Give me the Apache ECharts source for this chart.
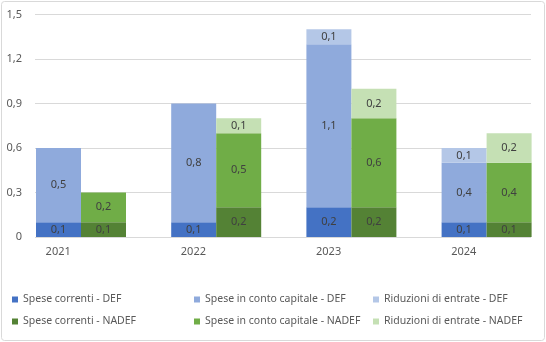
<!DOCTYPE html>
<html>
<head>
<meta charset="utf-8">
<script src="https://cdn.jsdelivr.net/npm/echarts@6/dist/echarts.min.js"></script>
<style>html,body{margin:0;padding:0;background:#fff;}#c{width:546px;height:342px;}</style>
</head>
<body>
<div id="c"></div>
<script>
const categories = ['2021', '2022', '2023', '2024'];
const correntiDEF = [0.1, 0.1, 0.2, 0.1];
const capitaleDEF = [0.5, 0.8, 1.1, 0.4];
const riduzioniDEF = [0, 0, 0.1, 0.1];
const correntiNADEF = [0.1, 0.2, 0.2, 0.1];
const capitaleNADEF = [0.2, 0.5, 0.6, 0.4];
const riduzioniNADEF = [0, 0.1, 0.2, 0.2];
const yMin = 0, yMax = 1.5, yStep = 0.3;

const FONT = 'Noto Sans';
const fmt = v => String(Math.round(v * 10) / 10).replace('.', ',');
const lab = {
  show: true, position: 'inside', color: '#404040', fontSize: 11, fontFamily: FONT,
  formatter: p => (p.value ? fmt(p.value) : '')
};
function bar(name, data, stack, color) {
  return { name, type: 'bar', stack, data, itemStyle: { color }, label: lab,
    xAxisIndex: 0, yAxisIndex: 0, barGap: '0%', barWidth: 45 };
}
const series = [
  { name: '_', type: 'bar', stack: 'z', data: categories.map(() => null), xAxisIndex: 0, yAxisIndex: 0, barGap: '0%', barWidth: 26.8 },
  bar('Spese correnti - DEF', correntiDEF, 'def', '#4472C4'),
  bar('Spese in conto capitale - DEF', capitaleDEF, 'def', '#8FAADC'),
  bar('Riduzioni di entrate - DEF', riduzioniDEF, 'def', '#B4C7E7'),
  bar('Spese correnti - NADEF', correntiNADEF, 'nadef', '#548235'),
  bar('Spese in conto capitale - NADEF', capitaleNADEF, 'nadef', '#70AD47'),
  bar('Riduzioni di entrate - NADEF', riduzioniNADEF, 'nadef', '#C5E0B4'),
  { name: '__', type: 'line', data: [], xAxisIndex: 1, yAxisIndex: 1 }
];
const legendPos = [
  ['Spese correnti - DEF', 12, 294],
  ['Spese in conto capitale - DEF', 194, 294],
  ['Riduzioni di entrate - DEF', 373, 294],
  ['Spese correnti - NADEF', 12, 316],
  ['Spese in conto capitale - NADEF', 194, 316],
  ['Riduzioni di entrate - NADEF', 373, 316]
];
const legends = legendPos.map(([n, l, t]) => ({
  data: [n], left: l, top: t, padding: 0, itemGap: 0, itemWidth: 6, itemHeight: 6, icon: 'rect',
  selectedMode: false, textStyle: { color: '#595959', fontSize: 10.5, fontFamily: FONT }
}));

const chart = echarts.init(document.getElementById('c'), null, { renderer: 'canvas' });
chart.setOption({
  animation: false,
  backgroundColor: '#fff',
  graphic: [{ type: 'rect', shape: { x: 1.5, y: 1.5, width: 543, height: 339, r: 3 },
    style: { fill: 'none', stroke: '#D9D9D9', lineWidth: 1 }, z: -1 }],
  legend: legends,
  grid: [
    { left: 0, right: 5.2, top: 14.5, bottom: 105 },
    { left: 35, right: 15, top: 14.5, bottom: 105 }
  ],
  xAxis: [
    { type: 'category', gridIndex: 0, data: categories, axisLine: { show: false }, axisTick: { show: false },
      axisLabel: { margin: 9, color: '#595959', fontSize: 11, fontFamily: FONT, padding: [0, 18.8, 0, 0] } },
    { type: 'category', gridIndex: 1, data: categories, show: false }
  ],
  yAxis: [
    { type: 'value', gridIndex: 0, min: yMin, max: yMax, interval: yStep, show: false, splitLine: { show: false } },
    { type: 'value', gridIndex: 1, min: yMin, max: yMax, interval: yStep,
      axisLine: { show: false }, axisTick: { show: false },
      splitLine: { lineStyle: { color: '#D9D9D9', width: 1 } },
      axisLabel: { margin: 13, color: '#595959', fontSize: 11, fontFamily: FONT, formatter: v => fmt(v) } }
  ],
  series
});
</script>
</body>
</html>
